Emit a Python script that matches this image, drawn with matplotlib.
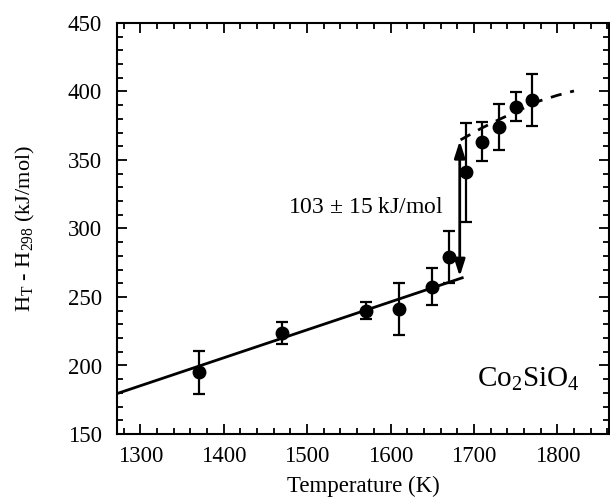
import matplotlib
matplotlib.use("Agg")
import matplotlib.pyplot as plt

plt.rcParams['font.family'] = ['Liberation Serif', 'DejaVu Serif']
plt.rcParams['mathtext.fontset'] = 'custom'
plt.rcParams['mathtext.rm'] = 'Liberation Serif'
plt.rcParams['mathtext.it'] = 'Liberation Serif:italic'

# Data
temps = [1370, 1470, 1570, 1610, 1650, 1670, 1690, 1710, 1730, 1750, 1770]
enthalpy = [195, 224, 240, 241.5, 257.5, 279, 341, 363.5, 374, 389, 393.5]
errors = [15.5, 8, 6, 19, 13.5, 19, 36, 14, 17, 10.5, 19]

solid_T = [1272, 1686]
solid_H = [179.5, 264]

dash_T = [1684, 1710, 1730, 1755, 1776, 1800, 1820]
dash_H = [364.7, 373.5, 379.5, 386.5, 392.6, 397.2, 400.4]

arrow_T = 1683
arrow_low = 265
arrow_high = 364

fig = plt.figure(figsize=(6.10, 4.99), dpi=100)
ax = fig.add_axes([117/610, 65/499, 492/610, 411/499])

ax.plot(solid_T, solid_H, color='black', lw=2.0, zorder=2)
ax.plot(dash_T, dash_H, color='black', lw=2.0, ls=(0, (4, 3.2)), zorder=2)
ax.errorbar(temps, enthalpy, yerr=errors, fmt='o', color='black', ms=9,
            elinewidth=1.6, capsize=4, capthick=1.6, zorder=3)

ax.annotate('', xy=(arrow_T, arrow_high), xytext=(arrow_T, arrow_low),
            arrowprops=dict(arrowstyle='<|-|>,head_length=1.0,head_width=0.32',
                            color='black', lw=2.0, shrinkA=0, shrinkB=0),
            zorder=4)

ax.text(1477, 315, '103 $\\pm$ 15 kJ/mol', fontsize=17, ha='left', va='center')
ax.text(1765, 190, 'Co$_2$SiO$_4$', fontsize=21, ha='center', va='center')

ax.set_xlim(1272, 1862)
ax.set_ylim(150, 450)
ax.set_xticks([1300, 1400, 1500, 1600, 1700, 1800])
ax.set_xticks(range(1280, 1861, 20), minor=True)
ax.set_yticks([150, 200, 250, 300, 350, 400, 450])
ax.set_yticks(range(150, 451, 10), minor=True)

ax.tick_params(which='both', direction='in', top=True, right=True, width=1.3)
ax.tick_params(which='major', length=7, labelsize=16.5)
ax.tick_params(which='minor', length=4)
ax.tick_params(axis='y', which='major', pad=11)
ax.tick_params(axis='x', which='major', pad=9)
for s in ax.spines.values():
    s.set_linewidth(1.5)

ax.set_xlabel('Temperature (K)', fontsize=16.5, labelpad=6)
ax.set_ylabel('H$_{\\rm T}$ - H$_{298}$ (kJ/mol)', fontsize=16, labelpad=22)

fig.savefig('out.png', dpi=100)
